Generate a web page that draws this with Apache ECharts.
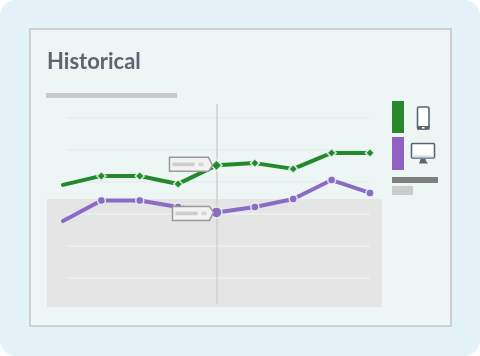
<!DOCTYPE html>
<html>
<head>
<meta charset="utf-8">
<title>Historical</title>
<script src="https://cdn.jsdelivr.net/npm/echarts@6/dist/echarts.min.js"></script>
<style>
  html, body { margin: 0; padding: 0; background: #fff; }
  #chart { width: 480px; height: 356px; }
</style>
</head>
<body>
<div id="chart"></div>
<script>
const categories = ['1', '2', '3', '4', '5', '6', '7', '8', '9'];
const mobileValues = [2.91, 3.19, 3.19, 2.94, 3.52, 3.59, 3.41, 3.91, 3.91];
const desktopValues = [1.78, 2.42, 2.42, 2.22, 2.05, 2.22, 2.47, 3.06, 2.66];
const hoverCategory = '5';

const GREEN = '#238a2b';
const PURPLE = '#8a6cc6';
const PANEL = '#eef6f5';
const SLATE = '#5a6670';

function bar(id, x, y, width, height, fill) {
    return { id: id, type: 'rect', shape: { x: x, y: y, width: width, height: height }, style: { fill: fill } };
}

function lineSeries(name, values, color, symbol, size, hoverSize) {
    return {
        name: name,
        type: 'line',
        xAxisIndex: 1,
        yAxisIndex: 1,
        data: values,
        // the first point of each line has no marker
        symbol: (v, p) => (p.dataIndex === 0 ? 'none' : symbol),
        symbolSize: (v, p) => (categories[p.dataIndex] === hoverCategory ? hoverSize : size),
        showAllSymbol: true,
        lineStyle: { color: color, width: 4, cap: 'round' },
        itemStyle: { color: color, borderColor: 'rgba(238,246,245,0.85)', borderWidth: 1.5 },
        silent: true,
        z: 5
    };
}

const chart = echarts.init(document.getElementById('chart'));

chart.setOption({
    animation: false,
    title: {
        text: 'Historical',
        left: 47,
        top: 51,
        padding: 0,
        textStyle: { fontFamily: 'Lato', fontSize: 22, fontWeight: 'bold', color: SLATE }
    },
    grid: [
        { left: 67, right: 110, top: 118, bottom: 78 },
        { left: 63, right: 110, top: 104, bottom: 52 }
    ],
    xAxis: [
        { gridIndex: 0, type: 'category', data: categories, show: false },
        { gridIndex: 1, type: 'category', data: categories, boundaryGap: false, show: false }
    ],
    yAxis: [
        {
            gridIndex: 0,
            type: 'value',
            min: 0,
            max: 5,
            interval: 1,
            z: 2,
            axisLine: { show: false },
            axisTick: { show: false },
            axisLabel: { show: false },
            splitLine: { lineStyle: { color: '#e9eeee', width: 2 } }
        },
        { gridIndex: 1, type: 'value', min: -0.8125, max: 5.4375, show: false }
    ],
    series: [
        Object.assign(lineSeries('Desktop', desktopValues, PURPLE, 'circle', 8, 11), {
            markLine: {
                silent: true,
                symbol: 'none',
                label: { show: false },
                lineStyle: { color: '#cfcfcf', width: 1.5, type: 'solid' },
                data: [{ xAxis: hoverCategory }]
            }
        }),
        lineSeries('Mobile', mobileValues, GREEN, 'diamond', 9, 11)
    ],
    graphic: [
        // frame and panel behind the plot
        { id: 'frame', type: 'rect', shape: { x: 0, y: 0, width: 480, height: 356, r: 16 }, style: { fill: '#e2f2f7' } },
        { id: 'panel', type: 'rect', shape: { x: 30, y: 29, width: 421, height: 297 }, style: { fill: PANEL, stroke: '#cfcfcf', lineWidth: 2 } },
        bar('subtitle', 46, 93, 131, 5, '#c9c9c9'),
        bar('band', 47, 199, 335, 108, '#e5e5e5'),
        // legend column
        bar('swatchMobile', 392, 101, 12, 32, '#27882c'),
        bar('swatchDesktop', 392, 137, 12, 33, '#9060c4'),
        bar('legendDark', 392, 177, 46, 6, '#808080'),
        bar('legendLight', 392, 186, 21, 9, '#cbcbcb'),
        // phone
        { id: 'phoneBody', type: 'rect', shape: { x: 417.5, y: 107, width: 11.5, height: 22, r: 1.5 }, style: { fill: '#fff', stroke: SLATE, lineWidth: 1.6 } },
        bar('phoneChin', 417, 126, 12.5, 3.5, SLATE),
        bar('phoneButton', 422, 127, 2.5, 1.5, '#fff'),
        // monitor
        { id: 'screen', type: 'rect', shape: { x: 411.5, y: 143.5, width: 23, height: 14.5, r: 1 }, style: { fill: '#fff', stroke: SLATE, lineWidth: 1.6 } },
        bar('screenChin', 412.5, 155.5, 21, 2, '#d5dcdf'),
        { id: 'stand', type: 'polygon', shape: { points: [[420.5, 159], [425.5, 159], [426, 161], [428, 163.5], [419, 163.5], [420, 161]] }, style: { fill: SLATE } }
    ]
});

// hover callouts hang off the highlighted points
function callout(id, values, tipGap, boxWidth, boxShift) {
    const idx = categories.indexOf(hoverCategory);
    const p = chart.convertToPixel({ xAxisIndex: 1, yAxisIndex: 1 }, [idx, values[idx]]);
    const tipX = p[0] - tipGap, tipY = p[1];
    const l = tipX - boxWidth, r = tipX - 4, t = tipY - 7 + boxShift, b = tipY + 7 + boxShift;
    const mid = (t + b) / 2;
    return [
        { id: id, type: 'polygon', z: 10, shape: { points: [[l, t], [r, t], [tipX, tipY], [r, b], [l, b]] }, style: { fill: '#f2f2f2', stroke: '#9a9a9a', lineWidth: 1.5 } },
        Object.assign(bar(id + 'Long', l + 3, mid - 1.8, 22, 3.6, '#cdcdcd'), { z: 11 }),
        Object.assign(bar(id + 'Short', l + 29, mid - 1.8, 5, 3.6, '#d5d5d5'), { z: 11 })
    ];
}

chart.setOption({
    graphic: callout('calloutMobile', mobileValues, 4, 43, -1).concat(callout('calloutDesktop', desktopValues, 3, 41, 1))
});
</script>
</body>
</html>
